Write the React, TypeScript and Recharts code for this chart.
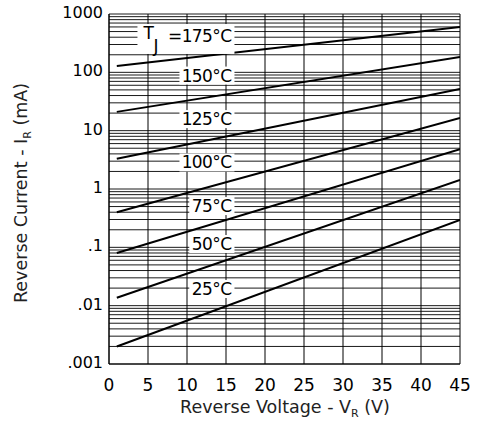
import React from 'react'
import { LineChart, Line, XAxis, YAxis, ReferenceLine, ReferenceDot } from 'recharts'

const voltageTicks = [0, 5, 10, 15, 20, 25, 30, 35, 40, 45]
const currentTicks = [0.001, 0.01, 0.1, 1, 10, 100, 1000]
const currentTickLabels = ['.001', '.01', '.1', '1', '10', '100', '1000']
const gridMultipliers = [1, 2, 3, 4, 5, 6, 7, 8, 9]

// reverse voltage (V) at the two ends of each curve
const sweepVoltage = [1, 45]
// reverse current (mA) per junction temperature
const current175 = [128, 600]
const current150 = [21, 183]
const current125 = [3.3, 52]
const current100 = [0.4, 16.5]
const current75 = [0.08, 4.8]
const current50 = [0.0137, 1.43]
const current25 = [0.002, 0.295]

const temperatures = ['175', '150', '125', '100', '75', '50', '25']
const curves = [current175, current150, current125, current100, current75, current50, current25]
// where each temperature tag sits (right edge voltage, centre current)
const labelVoltage = 15.7
const labelCurrents = [420, 88, 15.8, 2.85, 0.51, 0.114, 0.0193]

const gridValues = currentTicks
  .slice(0, -1)
  .flatMap((d) => gridMultipliers.map((m) => d * m))
  .concat([1000])

const FONT = '"DejaVu Sans", sans-serif'

function tickLabel(v: number) {
  const k = currentTicks.findIndex((t) => Math.abs(Math.log10(t) - Math.log10(v)) < 1e-6)
  return k >= 0 ? currentTickLabels[k] : String(v)
}

const XTick = (props: any) => {
  const { x, y, payload } = props
  return (
    <text x={x} y={y + 27} textAnchor="middle" fontFamily={FONT} fontSize={17} fill="#000">
      {payload.value}
    </text>
  )
}

const YTick = (props: any) => {
  const { x, y, payload } = props
  return (
    <text x={x - 6} y={y + 4} textAnchor="end" fontFamily={FONT} fontSize={16} fill="#000">
      {tickLabel(payload.value)}
    </text>
  )
}

const XTitle = () => (
  <text x={285} y={413} textAnchor="middle" fontFamily={FONT} fontSize={17.5} fill="#222">
    Reverse Voltage - V
    <tspan fontSize={11} dy={4}>R</tspan>
    <tspan dy={-4}> (V)</tspan>
  </text>
)

const YTitle = () => (
  <text
    x={0}
    y={0}
    transform="translate(27,193) rotate(-90)"
    textAnchor="middle"
    fontFamily={FONT}
    fontSize={17.5}
    fill="#222"
  >
    Reverse Current - I
    <tspan fontSize={11} dy={4}>R</tspan>
    <tspan dy={-4}> (mA)</tspan>
  </text>
)

const TempLabel = ({ cx, cy, temp, first }: any) => {
  if (cx == null || cy == null) return null
  if (first) {
    return (
      <g>
        <rect x={cx - 94} y={cy - 12} width={97} height={30} fill="#fff" />
        <text x={cx - 88} y={cy + 3} fontFamily={FONT} fontSize={17} fill="#000">
          T
        </text>
        <text x={cx - 78} y={cy + 16} fontFamily={FONT} fontSize={17} fill="#000">
          J
        </text>
        <text x={cx} y={cy + 6} textAnchor="end" fontFamily={FONT} fontSize={17} letterSpacing={-0.6} fill="#000">
          ={temp}°C
        </text>
      </g>
    )
  }
  const w = (temp.length + 2) * 9.8 + 4
  return (
    <g>
      <rect x={cx - w + 1} y={cy - 9} width={w + 2} height={18} fill="#fff" />
      <text x={cx} y={cy + 6} textAnchor="end" fontFamily={FONT} fontSize={17} letterSpacing={-0.6} fill="#000">
        {temp}°C
      </text>
    </g>
  )
}

export default function App() {
  return (
    <div style={{ position: 'absolute', left: 0, top: 0, background: '#fff' }}>
      <LineChart width={480} height={424} margin={{ top: 14, right: 20, bottom: 0, left: 0 }}>
        <XAxis
          dataKey="v"
          type="number"
          domain={[0, 45]}
          ticks={voltageTicks}
          height={60}
          tickSize={0}
          tickMargin={0}
          tickLine={false}
          axisLine={{ stroke: '#000' }}
          tick={<XTick />}
          label={<XTitle />}
          allowDataOverflow
        />
        <YAxis
          type="number"
          scale="log"
          domain={[0.001, 1000]}
          ticks={currentTicks}
          width={109}
          tickSize={0}
          tickMargin={0}
          tickLine={false}
          axisLine={{ stroke: '#000' }}
          tick={<YTick />}
          label={<YTitle />}
          allowDataOverflow
        />
        {gridValues.map((g) => (
          <ReferenceLine key={'h' + g} y={g} stroke="#1a1a1a" strokeWidth={1} />
        ))}
        {voltageTicks.map((g) => (
          <ReferenceLine key={'v' + g} x={g} stroke="#000" strokeWidth={1} />
        ))}
        {curves.map((cur, k) => (
          <Line
            key={temperatures[k]}
            data={sweepVoltage.map((v, j) => ({ v, i: cur[j] }))}
            dataKey="i"
            stroke="#000"
            strokeWidth={2}
            dot={false}
            isAnimationActive={false}
          />
        ))}
        {temperatures.map((t, k) => (
          <ReferenceDot
            key={'lbl' + t}
            x={labelVoltage}
            y={labelCurrents[k]}
            r={1}
            shape={(p: any) => <TempLabel cx={p.cx} cy={p.cy} temp={t} first={k === 0} />}
          />
        ))}
      </LineChart>
    </div>
  )
}
